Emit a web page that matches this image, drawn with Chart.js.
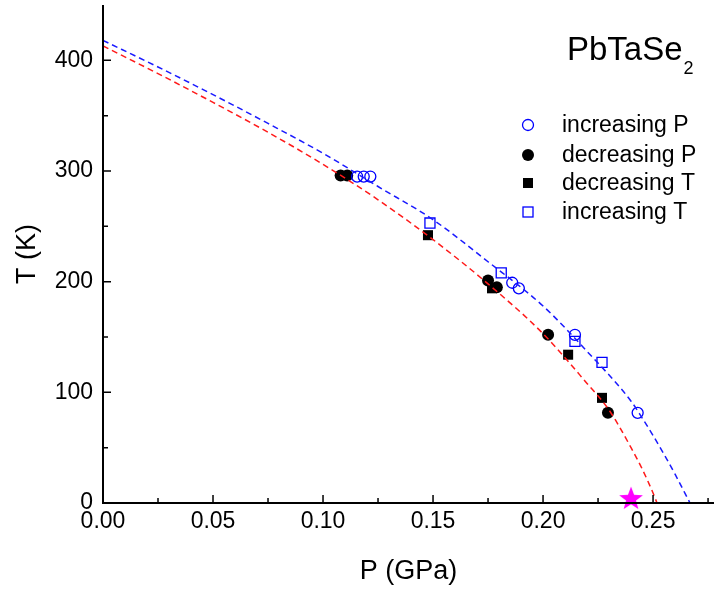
<!DOCTYPE html>
<html>
<head>
<meta charset="utf-8">
<script src="https://cdn.jsdelivr.net/npm/chart.js@4/dist/chart.umd.min.js"></script>
<style>
  html, body { margin: 0; padding: 0; background: #fff; }
  #wrap { width: 714px; height: 589px; position: relative; }
</style>
</head>
<body>
<div id="wrap"><canvas id="c" width="714" height="589"></canvas></div>
<script>
// ---- Data ----
const incPressureP = [0.1155, 0.1185, 0.1215, 0.186, 0.189, 0.2145, 0.243];
const incPressureT = [295, 295, 295, 199, 194, 152, 81.5];

const decPressureP = [0.108, 0.111, 0.175, 0.179, 0.2023, 0.2295];
const decPressureT = [296, 296, 201, 195, 152, 81.5];

const decTempP = [0.1477, 0.1768, 0.2114, 0.2268];
const decTempT = [242, 194, 134, 95];

const incTempP = [0.1486, 0.181, 0.2145, 0.2268];
const incTempT = [253, 208, 146, 127];

const starP = [0.240];
const starT = [4.5];

// dashed guide curves
const blueCurveP = [0, 0.025, 0.05, 0.075, 0.1, 0.125, 0.15, 0.175, 0.2, 0.22, 0.24, 0.245, 0.25, 0.255, 0.26, 0.2668];
const blueCurveT = [418, 394, 369, 343, 316, 286, 256, 218, 178, 137, 92, 77, 61, 44, 26, 0];
const redCurveP  = [0, 0.025, 0.05, 0.075, 0.1, 0.125, 0.15, 0.175, 0.2, 0.22, 0.23, 0.24, 0.245, 0.25, 0.2518];
const redCurveT  = [413, 388, 362, 335, 306, 274, 238, 198, 153, 108, 84, 50, 31, 9, 0];

const xMajorTicks = [0, 0.05, 0.10, 0.15, 0.20, 0.25];
const xMinorTicks = [0.025, 0.075, 0.125, 0.175, 0.225, 0.275];
const yMajorTicks = [0, 100, 200, 300, 400];
const yMinorTicks = [50, 150, 250, 350];

const legendLabels = ['increasing P', 'decreasing P', 'decreasing T', 'increasing T'];
const sampleName = 'PbTaSe';
const sampleSub = '2';
const xTitle = 'P (GPa)';
const yTitle = 'T (K)';

const zip = (xs, ys) => xs.map((x, i) => ({x: x, y: ys[i]}));

// magenta five-point star image
const starImg = document.createElement('canvas');
starImg.width = 28; starImg.height = 28;
(function () {
  const g = starImg.getContext('2d');
  g.beginPath();
  for (let i = 0; i < 10; i++) {
    const r = i % 2 === 0 ? 12.5 : 5.2;
    const a = -Math.PI / 2 + i * Math.PI / 5;
    const px = 14 + r * Math.cos(a), py = 15 + r * Math.sin(a);
    if (i === 0) g.moveTo(px, py); else g.lineTo(px, py);
  }
  g.closePath();
  g.fillStyle = '#ff00ff';
  g.fill();
})();

const FONT = "'Liberation Sans', Arial, sans-serif";

function drawMarker(ctx, kind, x, y) {
  ctx.save();
  ctx.lineWidth = 1.3;
  if (kind === 'openCircle') {
    ctx.strokeStyle = '#0000ff';
    ctx.beginPath(); ctx.arc(x, y, 5.5, 0, Math.PI * 2); ctx.stroke();
  } else if (kind === 'fillCircle') {
    ctx.fillStyle = '#000';
    ctx.beginPath(); ctx.arc(x, y, 6, 0, Math.PI * 2); ctx.fill();
  } else if (kind === 'fillSquare') {
    ctx.fillStyle = '#000';
    ctx.fillRect(x - 5, y - 5, 10, 10);
  } else if (kind === 'openSquare') {
    ctx.strokeStyle = '#0000ff';
    ctx.strokeRect(x - 5, y - 5, 10, 10);
  }
  ctx.restore();
}

const decorPlugin = {
  id: 'decor',
  afterDraw(chart) {
    const ctx = chart.ctx;
    const a = chart.chartArea;
    const xs = chart.scales.x, ys = chart.scales.y;
    ctx.save();
    ctx.strokeStyle = '#000';
    ctx.lineWidth = 2;
    ctx.beginPath();
    ctx.moveTo(a.left, a.top);
    ctx.lineTo(a.left, a.bottom);
    ctx.lineTo(a.right, a.bottom);
    ctx.stroke();
    ctx.lineWidth = 1.5;
    ctx.beginPath();
    xMajorTicks.forEach(v => { const px = xs.getPixelForValue(v); ctx.moveTo(px, a.bottom); ctx.lineTo(px, a.bottom - 8); });
    xMinorTicks.forEach(v => { const px = xs.getPixelForValue(v); if (px <= a.right) { ctx.moveTo(px, a.bottom); ctx.lineTo(px, a.bottom - 5); } });
    yMajorTicks.forEach(v => { const py = ys.getPixelForValue(v); ctx.moveTo(a.left, py); ctx.lineTo(a.left + 8, py); });
    yMinorTicks.forEach(v => { const py = ys.getPixelForValue(v); ctx.moveTo(a.left, py); ctx.lineTo(a.left + 5, py); });
    ctx.stroke();

    ctx.fillStyle = '#000';
    ctx.textBaseline = 'alphabetic';
    ctx.textAlign = 'left';
    ctx.font = '33px ' + FONT;
    ctx.fillText(sampleName, 567, 60);
    const w = ctx.measureText(sampleName).width;
    ctx.font = '18px ' + FONT;
    ctx.fillText(sampleSub, 567 + w + 1, 74);

    const kinds = ['openCircle', 'fillCircle', 'fillSquare', 'openSquare'];
    const rowsY = [125, 155, 183, 212];
    ctx.font = '23px ' + FONT;
    ctx.textBaseline = 'middle';
    legendLabels.forEach((lab, i) => {
      drawMarker(ctx, kinds[i], 528, rowsY[i]);
      ctx.fillStyle = '#000';
      ctx.fillText(lab, 562, rowsY[i] + 1);
    });
    ctx.restore();
  }
};

const lineDs = (data, color) => ({
  data: data, showLine: true, borderColor: color, borderWidth: 1.5,
  borderDash: [6, 4], pointRadius: 0, fill: false,
  cubicInterpolationMode: 'monotone', order: 0
});

const noPad = (s) => { s.paddingLeft = 0; s.paddingRight = 0; s.paddingTop = 0; s.paddingBottom = 0; };

new Chart(document.getElementById('c'), {
  type: 'scatter',
  data: {
    datasets: [
      lineDs(zip(blueCurveP, blueCurveT), '#1a1aff'),
      lineDs(zip(redCurveP, redCurveT), '#ff1a1a'),
      { label: legendLabels[0], data: zip(incPressureP, incPressureT), pointStyle: 'circle', pointRadius: 5.5,
        borderColor: '#0000ff', backgroundColor: 'rgba(0,0,0,0)', borderWidth: 1.3, order: 1 },
      { label: legendLabels[1], data: zip(decPressureP, decPressureT), pointStyle: 'circle', pointRadius: 6,
        borderColor: '#000', backgroundColor: '#000', borderWidth: 0, order: 1 },
      { label: legendLabels[2], data: zip(decTempP, decTempT), pointStyle: 'rect', pointRadius: 7.1,
        borderColor: '#000', backgroundColor: '#000', borderWidth: 0, order: 1 },
      { label: legendLabels[3], data: zip(incTempP, incTempT), pointStyle: 'rect', pointRadius: 7.1,
        borderColor: '#0000ff', backgroundColor: 'rgba(0,0,0,0)', borderWidth: 1.3, order: 1 },
      { label: 'star', data: zip(starP, starT), pointStyle: starImg, pointRadius: 12, clip: false, order: 1 }
    ]
  },
  options: {
    responsive: false,
    animation: false,
    events: [],
    layout: { autoPadding: false, padding: { top: 5, right: 0, left: 0, bottom: 0 } },
    plugins: { legend: { display: false }, tooltip: { enabled: false } },
    scales: {
      x: {
        type: 'linear', min: 0, max: 0.2777,
        grid: { display: false, drawTicks: false },
        border: { display: false },
        ticks: {
          stepSize: 0.025, padding: 5, color: '#000', autoSkip: false, maxRotation: 0,
          font: { family: FONT, size: 23 },
          callback: (v) => {
            const k = Math.round(v / 0.05);
            return Math.abs(v - k * 0.05) < 1e-6 ? (k * 0.05).toFixed(2) : '';
          }
        },
        title: { display: true, text: xTitle, color: '#000', font: { family: FONT, size: 27 }, padding: { top: 0, bottom: 1 } },
        afterFit: (s) => { s.height = 86; noPad(s); }
      },
      y: {
        type: 'linear', min: 0, max: 450,
        grid: { display: false, drawTicks: false },
        border: { display: false },
        ticks: {
          stepSize: 50, padding: 10, color: '#000', autoSkip: false,
          font: { family: FONT, size: 23 },
          callback: (v) => (v % 100 === 0 ? String(v) : '')
        },
        title: { display: true, text: yTitle, color: '#000', font: { family: FONT, size: 27 }, padding: { top: 11, bottom: 0 } },
        afterFit: (s) => { s.width = 103; noPad(s); }
      }
    }
  },
  plugins: [decorPlugin]
});
</script>
</body>
</html>
